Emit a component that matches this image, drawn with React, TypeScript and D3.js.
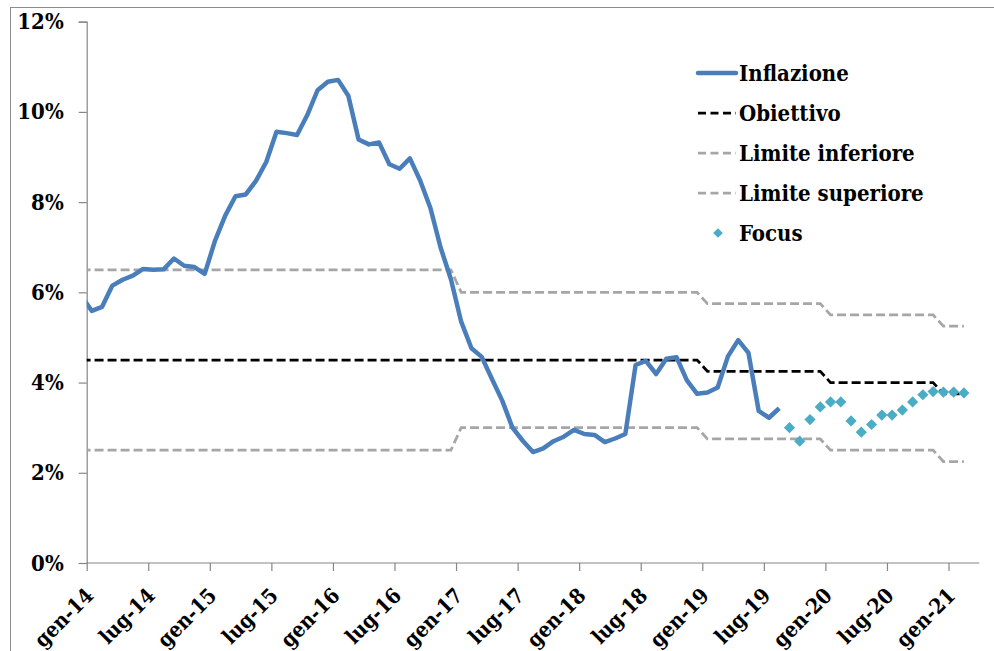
import React, { useRef, useEffect } from 'react';
import * as d3 from 'd3';

// month index: 0 = gen-14, -1 = dic-13
const inflationStart = -1;
const inflation = [
  5.91,
  5.59, 5.68, 6.15, 6.28, 6.37, 6.52, 6.5, 6.51, 6.75, 6.59, 6.56, 6.41,
  7.14, 7.7, 8.13, 8.17, 8.47, 8.89, 9.56, 9.53, 9.49, 9.93, 10.48, 10.67,
  10.71, 10.36, 9.39, 9.28, 9.32, 8.84, 8.74, 8.97, 8.48, 7.87, 6.99, 6.29,
  5.35, 4.76, 4.57, 4.08, 3.6, 3.0, 2.71, 2.46, 2.54, 2.7, 2.8, 2.95,
  2.86, 2.84, 2.68, 2.76, 2.86, 4.39, 4.48, 4.19, 4.53, 4.56, 4.05, 3.75,
  3.78, 3.89, 4.58, 4.94, 4.66, 3.37, 3.22, 3.43,
];

// Focus expectations, from set-19
const focusStart = 68;
const focus = [
  3.0, 2.7, 3.18, 3.46, 3.57, 3.57, 3.15, 2.9, 3.07, 3.28, 3.28, 3.39,
  3.57, 3.73, 3.8, 3.79, 3.79, 3.77,
];

// target regimes: first and last month of each period
const periodFrom = [-1, 36, 60, 72, 83];
const periodTo = [35, 59, 71, 82, 85];
const obiettivo = [4.5, 4.5, 4.25, 4.0, 3.75];
const limiteInferiore = [2.5, 3.0, 2.75, 2.5, 2.25];
const limiteSuperiore = [6.5, 6.0, 5.75, 5.5, 5.25];

const tickLabels = [
  'gen-14', 'lug-14', 'gen-15', 'lug-15', 'gen-16', 'lug-16', 'gen-17', 'lug-17',
  'gen-18', 'lug-18', 'gen-19', 'lug-19', 'gen-20', 'lug-20', 'gen-21',
];
const yTicks = [0, 2, 4, 6, 8, 10, 12];

const legendItems = ['Inflazione', 'Obiettivo', 'Limite inferiore', 'Limite superiore', 'Focus'];

const FONT = '"DejaVu Serif Condensed", "DejaVu Serif", serif';

const App = () => {
  const svgRef = useRef<SVGSVGElement>(null);

  useEffect(() => {
    const svg = d3.select(svgRef.current);
    svg.selectAll('*').remove();

    const width = 994;
    const height = 651;
    const left = 86.7;
    const right = 979.3;
    const top = 21.7;
    const bottom = 563;

    // x: months, each point centred in its month
    const x = d3.scaleLinear().domain([0, 87]).range([left, right]);
    const y = d3.scaleLinear().domain([0, 12]).range([bottom, top]);
    const px = (m: number) => x(m + 0.5);

    // chart border
    svg.append('rect')
      .attr('x', 10.5).attr('y', 7.5)
      .attr('width', 1000).attr('height', 700)
      .attr('fill', 'white')
      .attr('stroke', '#8c8c8c')
      .attr('stroke-width', 1);

    svg.append('defs').append('clipPath').attr('id', 'plot-clip')
      .append('rect')
      .attr('x', left).attr('y', 0)
      .attr('width', right - left + 20).attr('height', bottom);

    // y axis
    const yAxis = d3.axisLeft(y).tickValues(yTicks).tickSize(8).tickFormat(d => `${d}%`);
    const gy = svg.append('g').attr('transform', `translate(${left},0)`).call(yAxis);
    gy.select('.domain').attr('stroke', '#868686').attr('stroke-width', 1.2);
    gy.selectAll('.tick line').attr('stroke', '#868686').attr('stroke-width', 1.2);
    gy.selectAll('.tick text')
      .attr('x', -23)
      .attr('fill', '#000')
      .style('font-family', FONT)
      .style('font-size', '22px')
      .style('font-weight', 'bold');

    // x axis
    const tickMonths = tickLabels.map((_, i) => i * 6);
    const xAxis = d3.axisBottom(x).tickValues(tickMonths).tickSize(8).tickFormat(() => '');
    const gx = svg.append('g').attr('transform', `translate(0,${bottom})`).call(xAxis);
    gx.select('.domain').attr('stroke', '#868686').attr('stroke-width', 1.2).attr('d', `M${left},0H${right}`);
    gx.selectAll('.tick line').attr('stroke', '#868686').attr('stroke-width', 1.2);

    svg.append('g').selectAll('text')
      .data(tickLabels)
      .join('text')
      .attr('transform', (d, i) => `translate(${x(tickMonths[i]) + 8},${bottom + 34}) rotate(-45)`)
      .attr('text-anchor', 'end')
      .style('font-family', FONT)
      .style('font-size', '21px')
      .style('font-weight', 'bold')
      .text(d => d);

    const plot = svg.append('g').attr('clip-path', 'url(#plot-clip)');

    // reference lines, one point per month
    const band = (vals: number[]) => {
      const pts: [number, number][] = [];
      periodFrom.forEach((f, i) => {
        for (let m = f; m <= periodTo[i]; m++) pts.push([m, vals[i]]);
      });
      return pts;
    };
    const line = d3.line<[number, number]>().x(d => px(d[0])).y(d => y(d[1]));

    [limiteSuperiore, limiteInferiore].forEach(vals => {
      plot.append('path')
        .attr('d', line(band(vals)))
        .attr('fill', 'none')
        .attr('stroke', '#a6a6a6')
        .attr('stroke-width', 2.75)
        .attr('stroke-dasharray', '9,4');
    });
    plot.append('path')
      .attr('d', line(band(obiettivo)))
      .attr('fill', 'none')
      .attr('stroke', '#000')
      .attr('stroke-width', 2.75)
      .attr('stroke-dasharray', '9,4');

    // inflation
    plot.append('path')
      .attr('d', line(inflation.map((v, i) => [inflationStart + i, v] as [number, number])))
      .attr('fill', 'none')
      .attr('stroke', '#4a7ebb')
      .attr('stroke-width', 4.5)
      .attr('stroke-linejoin', 'round');

    // focus diamonds
    const diamond = d3.symbol().type(d3.symbolDiamond2).size(80);
    plot.selectAll('.focus')
      .data(focus)
      .join('path')
      .attr('class', 'focus')
      .attr('d', diamond)
      .attr('transform', (d, i) => `translate(${px(focusStart + i)},${y(d)})`)
      .attr('fill', '#4bacc6');

    // legend
    const lg = svg.append('g');
    const rowY = (i: number) => 73 + i * 40;
    const legendDiamond = d3.symbol().type(d3.symbolDiamond2).size(60);
    legendItems.forEach((name, i) => {
      const cy = rowY(i);
      if (i === 0) {
        lg.append('line').attr('x1', 698).attr('x2', 736).attr('y1', cy).attr('y2', cy)
          .attr('stroke', '#4a7ebb').attr('stroke-width', 4.5).attr('stroke-linecap', 'round');
      } else if (i < 4) {
        lg.append('line').attr('x1', 698).attr('x2', 736).attr('y1', cy).attr('y2', cy)
          .attr('stroke', i === 1 ? '#000' : '#a6a6a6').attr('stroke-width', 2.75)
          .attr('stroke-dasharray', '8,4.5');
      } else {
        lg.append('path').attr('d', legendDiamond).attr('transform', `translate(718,${cy})`).attr('fill', '#4bacc6');
      }
      lg.append('text')
        .attr('x', 739).attr('y', cy)
        .attr('dy', '0.35em')
        .style('font-family', FONT)
        .style('font-size', '22px')
        .style('font-weight', 'bold')
        .text(name);
    });

    svg.attr('width', width).attr('height', height);
  }, []);

  return (
    <div style={{ position: 'absolute', left: 0, top: 0 }}>
      <svg ref={svgRef} width={994} height={651} style={{ display: 'block' }}></svg>
    </div>
  );
};

export default App;
